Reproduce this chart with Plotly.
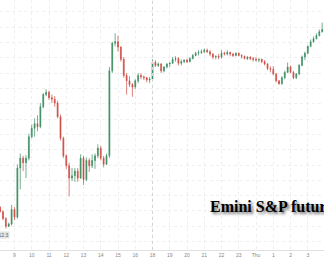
import pandas as pd
import plotly.graph_objects as go

# 10-minute bars: Wednesday day session, then overnight session into Thursday
session1_times = pd.date_range("2023-02-01 08:10", "2023-02-01 16:50", freq="10min")
session2_times = pd.date_range("2023-02-01 18:00", "2023-02-02 03:50", freq="10min")

s1_open = [
    4021.25, 4019.75, 4017.5, 4015, 4015.75, 4020.5, 4018, 4034, 4037.25, 4035.75,
    4037.25, 4044.25, 4047, 4048.5, 4047.5, 4054, 4058, 4058.75, 4057, 4056.5,
    4055.25, 4050.75, 4043.75, 4038, 4034.75, 4030.75, 4031.5, 4033, 4030.75, 4037.25,
    4030.25, 4036.5, 4034.75, 4036.5, 4038, 4040.5, 4037.25, 4035.25, 4038, 4065.75,
    4074.75, 4075.25, 4073.5, 4069.5, 4064.25, 4062.5, 4061.25, 4060.5, 4062.5, 4064.25,
    4063.75, 4063.5, 4062.75,
]
s1_high = [
    4021.5, 4020.25, 4018, 4016.25, 4022, 4021.25, 4035.25, 4038.75, 4038, 4038.25,
    4045.25, 4048.25, 4050.25, 4051.25, 4055.25, 4058.5, 4059.75, 4059.25, 4058, 4057.5,
    4056, 4051.5, 4044.25, 4038.5, 4035.75, 4034, 4034, 4034, 4038.5, 4038,
    4037.5, 4037.25, 4038.5, 4038.75, 4041.75, 4041.25, 4038, 4038.75, 4067, 4075.25,
    4078, 4077.25, 4073.75, 4070.25, 4065, 4064, 4061.75, 4063, 4065, 4065,
    4064.25, 4063.75, 4063.75,
]
s1_low = [
    4019.5, 4017, 4014.25, 4014.75, 4015.25, 4017, 4017.5, 4027, 4033, 4030.75,
    4036.5, 4043.75, 4044.25, 4046, 4047, 4053.5, 4057.5, 4056.25, 4055.25, 4054,
    4050.25, 4043, 4037.25, 4033.75, 4024.75, 4029.75, 4029.5, 4029.5, 4030.5, 4028.5,
    4029.75, 4032.75, 4034, 4033.75, 4037.25, 4036.5, 4034.25, 4035, 4037.25, 4065,
    4073.75, 4072, 4068.75, 4063.5, 4058, 4060.5, 4057.25, 4059.75, 4061.75, 4063,
    4062.75, 4062, 4061.75,
]
s1_close = [
    4019.75, 4017.5, 4015, 4015.75, 4020.5, 4018, 4034, 4037.25, 4035.75, 4037.25,
    4044.25, 4047, 4048.5, 4047.5, 4054, 4058, 4058.75, 4057, 4056.5, 4055.25,
    4050.75, 4043.75, 4038, 4034.75, 4030.75, 4031.5, 4033, 4030.75, 4037.25, 4030.25,
    4036.5, 4034.75, 4036.5, 4038, 4040.5, 4037.25, 4035.25, 4038, 4065.75, 4074.75,
    4075.25, 4073.5, 4069.5, 4064.25, 4062.5, 4061.25, 4060.5, 4062.5, 4064.25, 4063.75,
    4063.5, 4062.75, 4063,
]

s2_open = [
    4063, 4068.5, 4067.5, 4068, 4065.75, 4067, 4068, 4068.25, 4069.5, 4069.75,
    4068.25, 4068.75, 4069.25, 4068.75, 4069.75, 4070.75, 4071.5, 4071.75, 4072, 4072.5,
    4072, 4071.25, 4070.25, 4070.5, 4070.25, 4071.5, 4071.25, 4071.75, 4071.25, 4070.75,
    4071.5, 4070.75, 4070.5, 4069.75, 4070.25, 4069.75, 4069.5, 4069.25, 4069.5, 4068.75,
    4068, 4066.5, 4066.25, 4064.75, 4062.5, 4061.5, 4063.5, 4065.25, 4067, 4065.25,
    4063.5, 4064.75, 4067.5, 4070.25, 4071.5, 4073.75, 4075.25, 4076.25, 4077.25, 4078.5,
]
s2_high = [
    4069.5, 4069.25, 4068.5, 4068.25, 4067.25, 4068.25, 4068.5, 4070.25, 4070.5, 4070.25,
    4069.5, 4069.5, 4069.75, 4070.25, 4071.25, 4072, 4072.5, 4072.75, 4073, 4073,
    4072.5, 4071.5, 4070.75, 4071.25, 4072.5, 4072, 4072.5, 4072, 4071.5, 4071.75,
    4071.75, 4071.25, 4070.75, 4070.5, 4070.5, 4070.25, 4070.25, 4069.75, 4069.75, 4069.25,
    4068.25, 4067.25, 4067.25, 4065, 4062.75, 4064, 4065.75, 4068.5, 4067.5, 4065.75,
    4065, 4068, 4070.75, 4072, 4074, 4076, 4077, 4078, 4079.25, 4081.5,
]
s2_low = [
    4062.75, 4067, 4067, 4065, 4065.25, 4066.5, 4067, 4068, 4068.75, 4067.5,
    4067.5, 4068.25, 4068.25, 4068.5, 4069.5, 4070.5, 4070.75, 4071.25, 4071.5, 4071.5,
    4070.5, 4069.5, 4069.5, 4069.5, 4069.75, 4070.75, 4070.75, 4070.5, 4070.25, 4070.5,
    4070.5, 4069.75, 4069.5, 4069.25, 4069.25, 4068.75, 4068.75, 4068.5, 4068.25, 4067.5,
    4066, 4065.25, 4064.25, 4062, 4061.25, 4061.25, 4063, 4065, 4065, 4063,
    4063, 4064.25, 4067.25, 4069.25, 4071.25, 4073.5, 4075, 4076, 4077, 4078.25,
]
s2_close = [
    4068.5, 4067.5, 4068, 4065.75, 4067, 4068, 4068.25, 4069.5, 4069.75, 4068.25,
    4068.75, 4069.25, 4068.75, 4069.75, 4070.75, 4071.5, 4071.75, 4072, 4072.5, 4072,
    4071.25, 4070.25, 4070.5, 4070.25, 4071.5, 4071.25, 4071.75, 4071.25, 4070.75, 4071.5,
    4070.75, 4070.5, 4069.75, 4070.25, 4069.75, 4069.5, 4069.25, 4069.5, 4068.75, 4068,
    4066.5, 4066.25, 4064.75, 4062.5, 4061.5, 4063.5, 4065.25, 4067, 4065.25, 4063.5,
    4064.75, 4067.5, 4070.25, 4071.5, 4073.75, 4075.25, 4076.25, 4077.25, 4078.5, 4079.25,
]

tick_times = ["2023-02-01 09:00", "2023-02-01 10:00", "2023-02-01 11:00", "2023-02-01 12:00",
              "2023-02-01 13:00", "2023-02-01 14:00", "2023-02-01 15:00", "2023-02-01 16:00",
              "2023-02-01 18:00", "2023-02-01 19:00", "2023-02-01 20:00", "2023-02-01 21:00",
              "2023-02-01 22:00", "2023-02-01 23:00", "2023-02-02 00:00", "2023-02-02 01:00",
              "2023-02-02 02:00", "2023-02-02 03:00"]
tick_labels = ["9", "10", "11", "12", "13", "14", "15", "16", "18", "19", "20", "21",
               "22", "23", "Thu", "1", "2", "3"]

last_label = "4012.3"
title_text = "Emini S&P futures"

times = list(session1_times) + list(session2_times)
opens = s1_open + s2_open
highs = s1_high + s2_high
lows = s1_low + s2_low
closes = s1_close + s2_close

fig = go.Figure(go.Candlestick(
    x=times, open=opens, high=highs, low=lows, close=closes,
    increasing=dict(line=dict(color="#3b8c60", width=0.7), fillcolor="#3b8c60"),
    decreasing=dict(line=dict(color="#cf4a43", width=0.7), fillcolor="#cf4a43"),
    whiskerwidth=0,
    showlegend=False,
    hoverinfo="skip",
))

fig.update_layout(
    width=324, height=258,
    margin=dict(l=0, r=0, t=0, b=5),
    paper_bgcolor="white", plot_bgcolor="white",
    boxgap=0.55,
    xaxis=dict(
        type="date",
        rangeslider=dict(visible=False),
        rangebreaks=[dict(bounds=[17, 18], pattern="hour")],
        range=["2023-02-01 08:09:36", "2023-02-02 03:56:24"],
        tickvals=tick_times, ticktext=tick_labels,
        tickfont=dict(size=5, color="#888", family="Liberation Sans"),
        showgrid=True, gridcolor="#efefef", griddash="dot", gridwidth=1,
        showline=True, linecolor="#e0e0e0", linewidth=1,
        ticks="", zeroline=False,
    ),
    yaxis=dict(
        range=[4007.26, 4088.87],
        dtick=5, tick0=4010,
        showticklabels=False,
        showgrid=True, gridcolor="#efefef", griddash="dot", gridwidth=1,
        zeroline=False,
    ),
    shapes=[dict(type="line", xref="x", yref="paper",
                 x0="2023-02-01 18:00", x1="2023-02-01 18:00", y0=0, y1=1,
                 line=dict(color="#d4d4d4", width=1, dash="dot"))],
    annotations=[
        dict(xref="paper", yref="paper", x=208 / 324, y=(253 - 209) / 253,
             xanchor="left", yanchor="middle", showarrow=False,
             text="<b>" + title_text + "</b>",
             font=dict(family="Liberation Serif", size=16, color="black",
                       shadow="2px 2px 3px #666")),
        dict(xref="paper", yref="y", x=10 / 324, y=4012.1,
             xanchor="right", yanchor="middle", showarrow=False,
             text=last_label, bgcolor="#e4e4e4",
             font=dict(size=5, color="#666", family="Liberation Sans"),
             borderpad=0),
    ],
)

fig.write_html("out.html")
